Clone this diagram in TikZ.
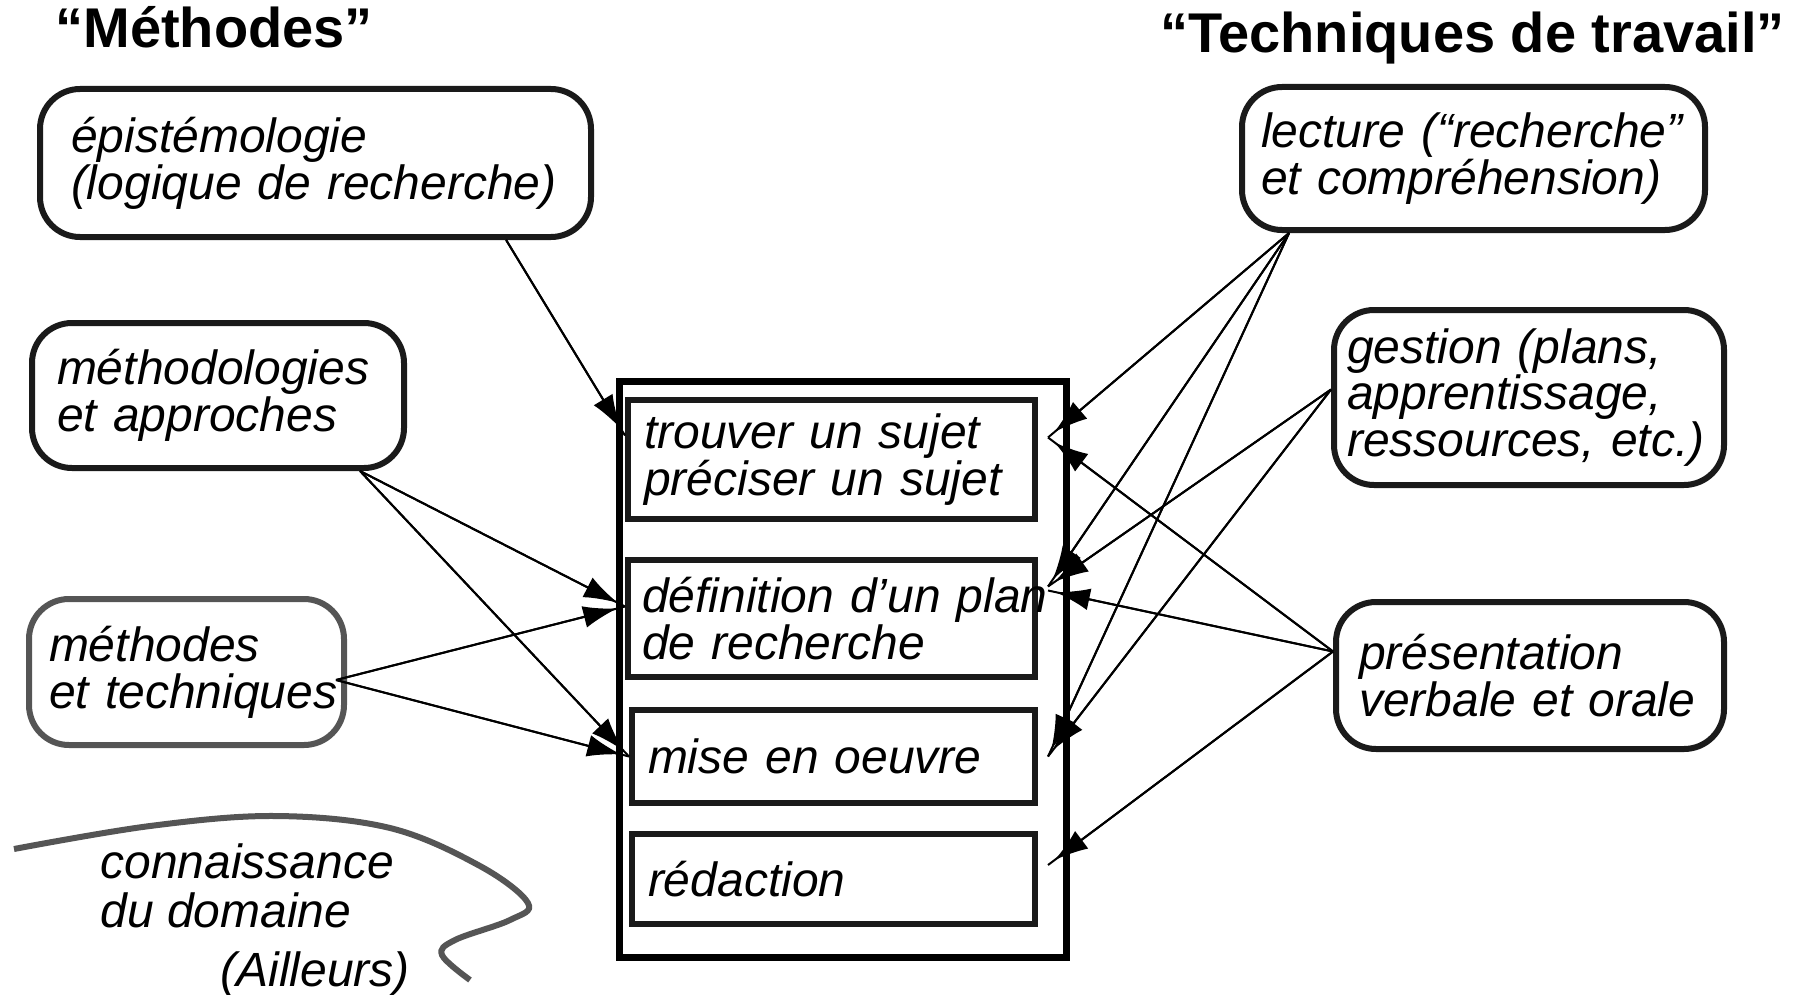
\documentclass[tikz,border=0pt]{standalone}
\usepackage{fontspec}
\setmainfont{Liberation Sans}
\usetikzlibrary{arrows.meta}
\definecolor{trait}{HTML}{1A1A1A}
\definecolor{gris}{HTML}{555555}
\tikzset{%
	titre/.style  = {font=\bfseries\fontsize{28}{30}\selectfont, inner sep=0pt, anchor=base west},
	bulle/.style  = {draw=trait, line width=3pt, rounded corners=20pt, align=left, inner ysep=0pt, font=\itshape\fontsize{24}{23.5}\selectfont},
	etape/.style  = {draw=trait, line width=3pt, rectangle, align=left, inner ysep=0pt, font=\itshape\fontsize{24}{23.5}\selectfont},
	cadre/.style  = {draw, line width=3.5pt, rectangle},
	fleche/.style = {line width=1pt, shorten >=4pt, -{Latex[length=17pt,width=11pt]}, postaction={draw, -, shorten >=0pt}},
	texte/.style  = {font=\itshape\fontsize{24}{23.5}\selectfont, inner sep=0pt, anchor=base west},
}

\begin{document}
\begin{tikzpicture}[x=0.5pt,y=-0.5pt]
	\useasboundingbox (0,0) rectangle (1798,995);
	% titres
	\node[titre] (tmeth) at (55,48) {“Méthodes”};
	\node[titre] (ttech) at (1160,53) {“Techniques de travail”};
	% methodes
	\node[bulle, text width=244.5pt, inner xsep=15.5pt, minimum height=74pt] (epi) at (315.5,163) {épistémologie\\(logique de recherche)};
	\node[bulle, text width=161pt, inner xsep=12.5pt, minimum height=72.5pt] (metho) at (218,395.5) {méthodologies\\et approches};
	\node[bulle, draw=gris, text width=137.5pt, inner xsep=10pt, minimum height=73pt] (methtech) at (186.5,672) {méthodes\\\mbox{et techniques}};
	% techniques
	\node[bulle, text width=212.5pt, inner xsep=9.5pt, minimum height=71.5pt] (lecture) at (1473.5,158.5) {\mbox{lecture (“recherche”}\\et compréhension)};
	\node[bulle, text width=182pt, inner xsep=6.5pt, minimum height=87.5pt, font=\itshape\fontsize{24}{19.5}\selectfont] (gestion) at (1529,397.5) {gestion (plans,\\apprentissage,\\\mbox{ressources, etc.)}};
	\node[bulle, text width=171pt, inner xsep=11.5pt, minimum height=73.5pt] (pres) at (1530,675.5) {présentation\\\mbox{verbale et orale}};
	% etapes
	\node[cadre, minimum width=223.5pt, minimum height=288pt] (cadre) at (842.5,669) {};
	\node[etape, text width=187.5pt, inner xsep=8pt, minimum height=59.5pt] (trouver) at (831.5,459.5) {trouver un sujet\\préciser un sujet};
	\node[etape, text width=189.5pt, inner xsep=7pt, minimum height=58.5pt] (def) at (831.5,618.5) {\mbox{définition d’un plan}\\de recherche};
	\node[etape, text width=185.5pt, inner xsep=8pt, minimum height=46.5pt] (mise) at (833.5,756.5) {mise en oeuvre};
	\node[etape, text width=185.5pt, inner xsep=8pt, minimum height=45pt] (redac) at (833.5,879) {rédaction};
	% domaine
	\draw[gris, line width=3pt] plot[smooth, tension=0.6] coordinates {(14,849) (150,826) (275,816) (390,828) (480,866) (528,903) (510,920) (455,940) (442,955) (470,980)};
	\node[texte] (connaissance) at (100,878) {connaissance};
	\node[texte] (domaine) at (100,927) {du domaine};
	\node[texte] (ailleurs) at (220,986) {(Ailleurs)};
	% fleches gauche
	\draw[fleche] (epi.-22.6) -- ([yshift=12pt]trouver.west);
	\draw[fleche] (metho.-28) -- ([yshift=6pt]def.west);
	\draw[fleche] (metho.-28) -- (mise.west);
	\draw[fleche] ([shift={(-5.5pt,-4pt)}]methtech.east) -- ([yshift=6pt]def.west);
	\draw[fleche] ([shift={(-5.5pt,-4pt)}]methtech.east) -- (mise.west);
	% fleches droite
	\draw[fleche] (lecture.-158) -- ([shift={(5pt,11pt)}]trouver.east);
	\draw[fleche] (lecture.-158) -- ([shift={(5pt,16pt)}]def.east);
	\draw[fleche] (lecture.-158) -- ([xshift=5pt]mise.east);
	\draw[fleche] ([yshift=4pt]gestion.west) -- ([shift={(5pt,16pt)}]def.east);
	\draw[fleche] ([yshift=4pt]gestion.west) -- ([xshift=5pt]mise.east);
	\draw[fleche] ([yshift=12pt]pres.west) -- ([shift={(5pt,11pt)}]trouver.east);
	\draw[fleche] ([yshift=12pt]pres.west) -- ([shift={(5pt,14pt)}]def.east);
	\draw[fleche] ([yshift=12pt]pres.west) -- ([shift={(5pt,7pt)}]redac.east);
\end{tikzpicture}
\end{document}
